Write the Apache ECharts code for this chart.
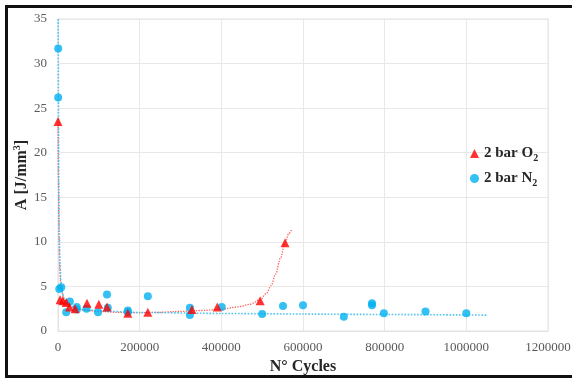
<!DOCTYPE html>
<html>
<head>
<meta charset="utf-8">
<script src="https://cdn.jsdelivr.net/npm/echarts@6/dist/echarts.min.js"></script>
<style>
html,body{margin:0;padding:0;background:#fff;}
#c{width:572px;height:380px;}
</style>
</head>
<body>
<div id="c"></div>
<script>
// Data
const xTicks = [0, 200000, 400000, 600000, 800000, 1000000, 1200000];
const yTicks = [0, 5, 10, 15, 20, 25, 30, 35];

const o2Cycles = [0, 5000, 12000, 20000, 28000, 42000, 71000, 100000, 120000, 171000, 220000, 328000, 390000, 495000, 556000];
const o2Values = [23.5, 3.5, 3.4, 3.2, 2.7, 2.5, 3.1, 3.0, 2.7, 2.0, 2.1, 2.4, 2.7, 3.4, 9.9];

const n2Cycles = [500, 500, 3000, 8000, 20000, 29000, 46000, 46000, 70000, 98000, 120000, 122000, 171000, 171000, 220000, 323000, 323000, 401000, 500000, 551000, 600000, 700000, 769000, 769000, 798000, 900000, 1000000];
const n2Values = [31.7, 26.2, 4.7, 4.9, 2.1, 3.3, 2.7, 2.4, 2.5, 2.1, 4.1, 2.6, 2.3, 2.1, 3.9, 2.6, 1.8, 2.7, 1.9, 2.8, 2.9, 1.6, 3.1, 2.9, 2.0, 2.2, 2.0];

// Trend lines
const o2TrendX = [0, 1000, 2000, 3000, 4500, 6000, 9000, 14000, 20000, 30000, 45000, 70000, 100000, 150000, 200000, 250000, 300000, 350000, 400000, 440000, 470000, 495000, 510000, 522000, 533000, 545000, 556000, 565000, 573000];
const o2TrendY = [23.5, 17, 12.5, 9.5, 7, 5.6, 4.5, 3.6, 3.1, 2.75, 2.5, 2.3, 2.2, 2.08, 2.05, 2.1, 2.2, 2.3, 2.45, 2.7, 3.0, 3.5, 4.2, 5.1, 6.4, 8.2, 9.9, 10.9, 11.5];
const n2TrendX = [300, 1000, 2000, 3000, 4500, 7000, 10000, 15000, 22000, 35000, 60000, 100000, 200000, 400000, 600000, 800000, 1053000];
const n2TrendY = [40, 27, 17, 11.5, 8, 5.6, 4.5, 3.7, 3.2, 2.75, 2.42, 2.25, 2.08, 1.97, 1.9, 1.85, 1.78];

const zip = (a, b) => a.map((v, i) => [v, b[i]]);
const serif = 'Liberation Serif';
const RED = '#ff0000', BLUE = '#00b0f0';

const chart = echarts.init(document.getElementById('c'), null, {renderer: 'canvas'});
chart.setOption({
  animation: false,
  backgroundColor: '#fff',
  textStyle: {fontFamily: serif},
  grid: {left: 58, right: 24, top: 19, bottom: 49, show: true, borderColor: '#e3e3e3', borderWidth: 1,
         containLabel: false, outerBoundsMode: 'none'},
  graphic: [
    {type: 'rect', shape: {x: 6.5, y: 6.5, width: 580, height: 370}, style: {fill: 'none', stroke: '#111', lineWidth: 3}, silent: true}
  ],
  xAxis: {
    type: 'value', min: xTicks[0], max: xTicks[xTicks.length - 1], interval: 200000,
    name: 'N° Cycles', nameLocation: 'middle', nameGap: 28, nameMoveOverlap: false,
    nameTextStyle: {fontFamily: serif, fontWeight: 'bold', fontSize: 16, color: '#262626'},
    axisLine: {show: true, lineStyle: {color: '#e3e3e3'}},
    axisTick: {show: false},
    axisLabel: {fontFamily: serif, fontSize: 13, color: '#595959', margin: 10, formatter: v => String(v), hideOverlap: false},
    splitLine: {show: true, lineStyle: {color: '#e8e8e8'}}
  },
  yAxis: {
    type: 'value', min: yTicks[0], max: yTicks[yTicks.length - 1], interval: 5,
    name: '{a|A [J/mm}{s|3}{a|]}', nameLocation: 'middle', nameGap: 27, nameRotate: 90, nameMoveOverlap: false,
    nameTextStyle: {
      rich: {
        a: {fontFamily: serif, fontWeight: 'bold', fontSize: 16, color: '#262626'},
        s: {fontFamily: serif, fontWeight: 'bold', fontSize: 10, color: '#262626', padding: [0, 0, 9, 0]}
      }
    },
    axisLine: {show: true, lineStyle: {color: '#e3e3e3'}},
    axisTick: {show: false},
    axisLabel: {fontFamily: serif, fontSize: 13, color: '#595959', margin: 11, formatter: v => String(v)},
    splitLine: {show: true, lineStyle: {color: '#e8e8e8'}}
  },
  legend: {
    orient: 'vertical', left: 465, top: 141, itemGap: 8, itemWidth: 9, itemHeight: 9,
    data: [{name: '2 bar O2', icon: 'triangle'}, {name: '2 bar N2', icon: 'circle'}],
    formatter: n => '{a|' + n.slice(0, -1) + '}{s|' + n.slice(-1) + '}',
    textStyle: {
      rich: {
        a: {fontFamily: serif, fontWeight: 'bold', fontSize: 15, color: '#262626'},
        s: {fontFamily: serif, fontWeight: 'bold', fontSize: 10, color: '#262626', padding: [9, 0, 0, 0]}
      }
    }
  },
  series: [
    {name: 'trendO2', type: 'line', data: zip(o2TrendX, o2TrendY), showSymbol: false, smooth: 0.35, smoothMonotone: 'x',
     lineStyle: {color: '#ff4040', width: 1.3, type: 'dotted', opacity: 0.85}, z: 1, silent: true},
    {name: 'trendN2', type: 'line', data: zip(n2TrendX, n2TrendY), showSymbol: false, smooth: 0.2, smoothMonotone: 'x',
     lineStyle: {color: '#40c0f0', width: 1.6, type: 'dotted', opacity: 0.9}, z: 1, silent: true},
    {name: '2 bar N2', type: 'scatter', data: zip(n2Cycles, n2Values), symbol: 'circle', symbolSize: 8,
     itemStyle: {color: BLUE}, z: 3},
    {name: '2 bar O2', type: 'scatter', data: zip(o2Cycles, o2Values), symbol: 'triangle', symbolSize: 9,
     itemStyle: {color: RED}, z: 4}
  ]
});
</script>
</body>
</html>
